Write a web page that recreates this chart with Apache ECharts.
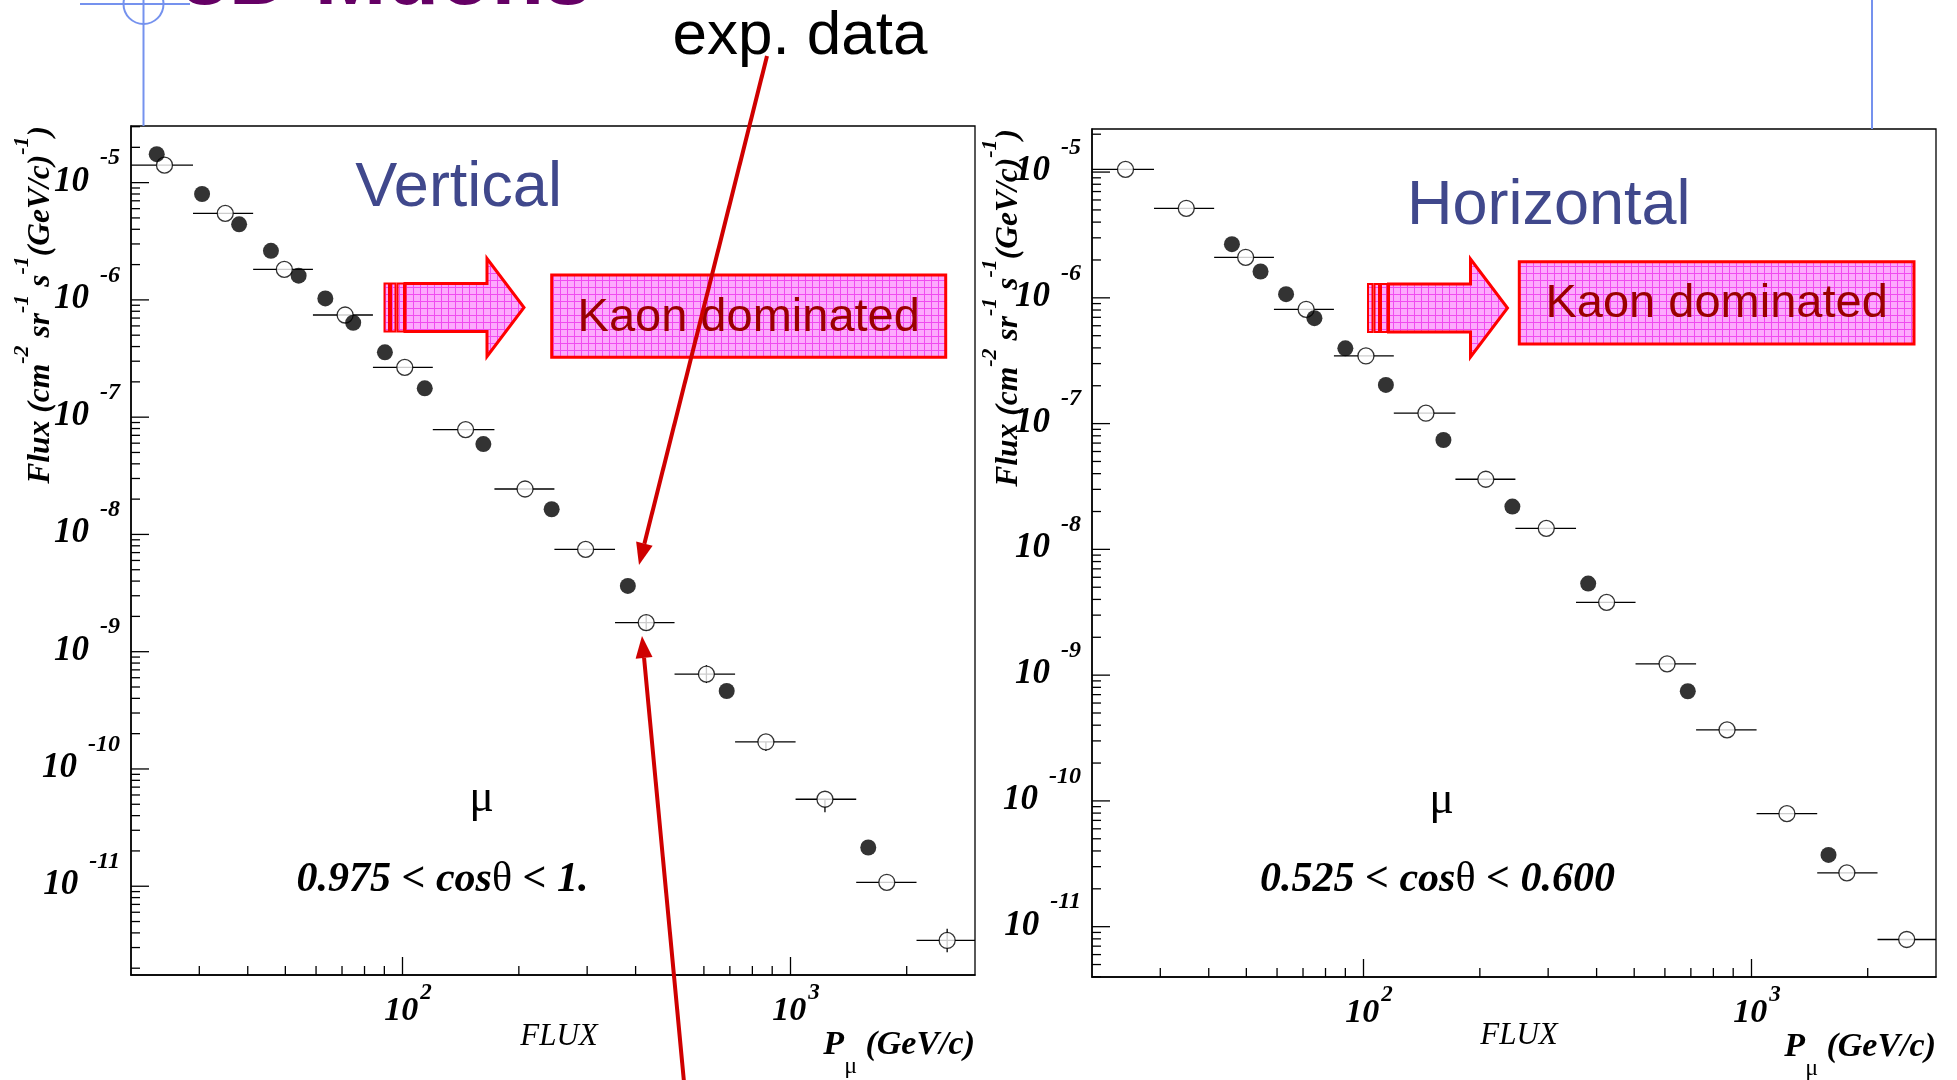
<!DOCTYPE html>
<html><head><meta charset="utf-8">
<script src="https://cdn.jsdelivr.net/npm/echarts@6/dist/echarts.min.js"></script>
<style>html,body{margin:0;padding:0;background:#fff;}#c{width:1957px;height:1080px;}</style>
</head><body><div id="c"></div>
<script>
// ================= DATA =================
// momentum bin edges (GeV/c) shared by the open-circle points (horizontal error bars)
const binEdges = [20, 28.9, 41.3, 58.9, 84.1, 120, 173, 247, 354, 504, 722, 1034, 1482, 2120, 3000];

// Vertical panel (0.975 < cos(theta) < 1)
const vertFilledP    = [23.3, 30.5, 38.0, 45.9, 54.1, 63.4, 74.8, 90.3, 114.4, 162, 243, 382, 687, 1592];
const vertFilledFlux = [1.75e-5, 8.0e-6, 4.41e-6, 2.62e-6, 1.61e-6, 1.03e-6, 6.38e-7, 3.57e-7, 1.76e-7, 5.9e-8, 1.64e-8, 3.64e-9, 4.62e-10, 2.14e-11];
const vertOpenP      = [24.4, 35.0, 49.7, 71.3, 101.6, 145.8, 207.5, 297.3, 426, 609, 867, 1231, 1777, 2543];
const vertOpenFlux   = [1.41e-5, 5.47e-6, 1.82e-6, 7.43e-7, 2.66e-7, 7.83e-8, 2.44e-8, 7.45e-9, 1.77e-9, 6.44e-10, 1.70e-10, 5.52e-11, 1.08e-11, 3.45e-12];
const vertOpenErrLo  = [1.41e-5, 5.47e-6, 1.82e-6, 7.43e-7, 2.66e-7, 7.83e-8, 2.44e-8, 7.45e-9, 1.51e-9, 5.40e-10, 1.42e-10, 4.28e-11, 1.08e-11, 2.74e-12];
const vertOpenErrHi  = [1.41e-5, 5.47e-6, 1.82e-6, 7.43e-7, 2.66e-7, 7.83e-8, 2.44e-8, 7.45e-9, 2.07e-9, 7.68e-10, 1.70e-10, 5.52e-11, 1.08e-11, 4.34e-12];

// Horizontal panel (0.525 < cos(theta) < 0.600)
const horFilledP    = [45.9, 54.4, 63.3, 74.9, 90.0, 114.5, 161.1, 242.6, 380.5, 687.3, 1585];
const horFilledFlux = [2.67e-6, 1.62e-6, 1.07e-6, 6.89e-7, 3.97e-7, 2.03e-7, 7.41e-8, 2.19e-8, 5.35e-9, 7.45e-10, 3.72e-11];
const horOpenP      = [24.4, 35.0, 49.8, 71.3, 101.7, 145.2, 207.2, 296.7, 424.5, 607.8, 867.7, 1238, 1767, 2521];
const horOpenFlux   = [1.05e-5, 5.15e-6, 2.10e-6, 8.11e-7, 3.45e-7, 1.21e-7, 3.61e-8, 1.47e-8, 3.79e-9, 1.23e-9, 3.67e-10, 7.92e-11, 2.68e-11, 7.91e-12];
const horOpenErrLo  = horOpenFlux;
const horOpenErrHi  = horOpenFlux;

// axis ranges and tick labels
const X_MIN = 20, X_MAX = 3000;
const VERT_Y_MIN = 1.75e-12, VERT_Y_MAX = 3.04e-5;
const HOR_Y_MIN = 3.98e-12, HOR_Y_MAX = 2.2e-5;
const yMajorTicks = [1e-11, 1e-10, 1e-9, 1e-8, 1e-7, 1e-6, 1e-5];
const yMajorLabels = ['-11', '-10', '-9', '-8', '-7', '-6', '-5'];
const yDecades = [1e-12, 1e-11, 1e-10, 1e-9, 1e-8, 1e-7, 1e-6, 1e-5];
const minorMultipliers = [2, 3, 4, 5, 6, 7, 8, 9];
const xMinorTicks = [30, 40, 50, 60, 70, 80, 90, 200, 300, 400, 500, 600, 700, 800, 900, 2000];

// ================= STYLE =================
const SERIF = '"Liberation Serif", "Times New Roman", serif';
const SANS = '"Liberation Sans", Arial, sans-serif';
const BLUE = '#7592ee';
const RED = '#cf0000';

const pat = document.createElement('canvas'); pat.width = 7; pat.height = 7;
const pg = pat.getContext('2d');
pg.fillStyle = '#fdaafd'; pg.fillRect(0, 0, 7, 7);
pg.fillStyle = '#f04cf0'; pg.fillRect(0, 0, 7, 1); pg.fillRect(0, 0, 1, 7);
const pinkFill = { image: pat, repeat: 'repeat' };

const yMinorTicks = [];
yDecades.forEach(d => minorMultipliers.forEach(m => yMinorTicks.push(m * d)));

const BI = { fontFamily: SERIF, fontStyle: 'italic', fontWeight: 'bold' };

function yTickSeries(gi, yMin, yMax) {
  const data = [];
  yMajorTicks.forEach((v, i) => { if (v >= yMin && v <= yMax) data.push([X_MIN, v, 1, i]); });
  yMinorTicks.forEach(v => { if (v > yMin && v < yMax) data.push([X_MIN, v, 0, -1]); });
  return {
    type: 'custom', xAxisIndex: gi, yAxisIndex: gi, clip: false, silent: true, z: 5,
    encode: { x: 0, y: 1 }, data,
    renderItem(params, api) {
      const p = api.coord([api.value(0), api.value(1)]);
      const major = api.value(2) === 1;
      const ch = [{ type: 'line', shape: { x1: p[0], y1: p[1], x2: p[0] + (major ? 18 : 9), y2: p[1] },
        style: { stroke: '#000', lineWidth: 1.3 } }];
      if (major) {
        ch.push({ type: 'text', x: p[0] - 11, y: p[1] - 10, style: {
          text: '{b|10}{e|' + yMajorLabels[api.value(3)] + '}', align: 'right', verticalAlign: 'middle',
          rich: {
            b: Object.assign({ fontSize: 35, lineHeight: 53, verticalAlign: 'bottom', fill: '#000' }, BI),
            e: Object.assign({ fontSize: 24, verticalAlign: 'top', fill: '#000', padding: [0, 0, 0, 11] }, BI)
          } } });
      }
      return { type: 'group', children: ch };
    }
  };
}

function xMinorSeries(gi, yMin) {
  return {
    type: 'custom', xAxisIndex: gi, yAxisIndex: gi, clip: false, silent: true, z: 5,
    encode: { x: 0, y: 1 }, data: xMinorTicks.map(v => [v, yMin]),
    renderItem(params, api) {
      const p = api.coord([api.value(0), api.value(1)]);
      return { type: 'line', shape: { x1: p[0], y1: p[1], x2: p[0], y2: p[1] - 9 }, style: { stroke: '#000', lineWidth: 1.3 } };
    }
  };
}

function errSeries(gi, P, F, lo, hi) {
  return {
    type: 'custom', xAxisIndex: gi, yAxisIndex: gi, clip: false, silent: true, z: 2,
    encode: { x: 0, y: 1 },
    data: P.map((p, i) => [p, F[i], binEdges[i], binEdges[i + 1], lo[i], hi[i]]),
    renderItem(params, api) {
      const l = api.coord([api.value(2), api.value(1)]);
      const r = api.coord([api.value(3), api.value(1)]);
      const ch = [{ type: 'line', shape: { x1: l[0], y1: l[1], x2: r[0], y2: r[1] }, style: { stroke: '#000', lineWidth: 1.3 } }];
      if (api.value(4) < api.value(5)) {
        const b = api.coord([api.value(0), api.value(4)]);
        const t = api.coord([api.value(0), api.value(5)]);
        ch.push({ type: 'line', shape: { x1: b[0], y1: b[1], x2: t[0], y2: t[1] }, style: { stroke: '#000', lineWidth: 1.3 } });
      }
      return { type: 'group', children: ch };
    }
  };
}

function openSeries(gi, P, F) {
  return { type: 'scatter', xAxisIndex: gi, yAxisIndex: gi, z: 3, symbol: 'circle', symbolSize: 16,
    itemStyle: { color: '#fff', borderColor: '#000', borderWidth: 1.3 }, data: P.map((p, i) => [p, F[i]]) };
}
function filledSeries(gi, P, F) {
  return { type: 'scatter', xAxisIndex: gi, yAxisIndex: gi, z: 4, symbol: 'circle', symbolSize: 16,
    itemStyle: { color: '#000' }, data: P.map((p, i) => [p, F[i]]) };
}

function mkX(gi) {
  return {
    type: 'log', logBase: 10, gridIndex: gi, min: X_MIN, max: X_MAX,
    axisLine: { show: true, lineStyle: { color: '#000', width: 1.5 } },
    axisTick: { show: true, inside: true, length: 18, lineStyle: { color: '#000', width: 1.3 } },
    minorTick: { show: false }, splitLine: { show: false },
    axisLabel: {
      show: true, margin: 7, showMinLabel: false, showMaxLabel: false,
      formatter: v => '{b|10}{e|' + Math.round(Math.log10(v)) + '}',
      rich: {
        b: Object.assign({ fontSize: 34, lineHeight: 46, verticalAlign: 'bottom', color: '#000', padding: [0, 0, 0, 12] }, BI),
        e: Object.assign({ fontSize: 23, verticalAlign: 'top', color: '#000', padding: [0, 0, 0, 2] }, BI)
      }
    },
    name: '{b|P}{u|μ}{b| (GeV/c)}', nameLocation: 'end', nameGap: 0, nameMoveOverlap: false,
    nameTextStyle: {
      align: 'right', verticalAlign: 'top', padding: [53, 0, 0, 0],
      rich: {
        b: Object.assign({ fontSize: 34, lineHeight: 51, verticalAlign: 'top', color: '#000' }, BI),
        u: { fontFamily: SERIF, fontSize: 24, verticalAlign: 'bottom', color: '#000' }
      }
    }
  };
}
function mkY(gi, mn, mx, padB) {
  return {
    type: 'log', logBase: 10, gridIndex: gi, min: mn, max: mx,
    axisLine: { show: true, lineStyle: { color: '#000', width: 1.5 } },
    axisTick: { show: false }, axisLabel: { show: false }, splitLine: { show: false }, minorTick: { show: false },
    name: '{b|Flux (cm}{s|-2}{b| sr}{s|-1}{b| s}{s|-1}{b|(GeV/c)}{s|-1}{b|)}',
    nameLocation: 'end', nameGap: 0, nameRotate: 90, nameMoveOverlap: false,
    nameTextStyle: {
      align: 'right', verticalAlign: 'bottom', padding: [0, 0, padB, 0],
      rich: {
        b: Object.assign({ fontSize: 31.5, lineHeight: 46, verticalAlign: 'bottom', color: '#000' }, BI),
        s: Object.assign({ fontSize: 22, verticalAlign: 'top', color: '#000' }, BI)
      }
    }
  };
}

function fatArrow(dx, dy) {
  const els = [];
  [[384.5, 4.5], [391, 4.5], [397.5, 6.5]].forEach(s => els.push({
    type: 'rect', shape: { x: s[0] + dx, y: 283.5 + dy, width: s[1], height: 48 },
    style: { fill: pinkFill, stroke: '#ff0000', lineWidth: 2 }, z: 50 }));
  els.push({ type: 'polygon', shape: { points: [[405 + dx, 283.5 + dy], [487 + dx, 283.5 + dy], [487 + dx, 258.5 + dy],
      [524 + dx, 307.5 + dy], [487 + dx, 356.5 + dy], [487 + dx, 331.5 + dy], [405 + dx, 331.5 + dy]] },
    style: { fill: pinkFill, stroke: '#ff0000', lineWidth: 3 }, z: 50 });
  return els;
}
function kaonBox(x, y, w, h) {
  return [
    { type: 'rect', shape: { x, y, width: w, height: h }, style: { fill: pinkFill, stroke: '#ff0000', lineWidth: 3 }, z: 50 },
    { type: 'text', x: x + w / 2, y: y + h / 2 + 1.5, z: 51, style: { text: 'Kaon dominated', fill: '#9a0000',
      font: '47px ' + SANS, align: 'center', verticalAlign: 'middle' } }
  ];
}
function redArrow(x1, y1, x2, y2) {
  const dx = x2 - x1, dy = y2 - y1, L = Math.hypot(dx, dy), ux = dx / L, uy = dy / L;
  const bx = x2 - 22 * ux, by = y2 - 22 * uy, px = -uy, py = ux;
  return [
    { type: 'line', shape: { x1, y1, x2: bx, y2: by }, style: { stroke: RED, lineWidth: 4 }, z: 100 },
    { type: 'polygon', shape: { points: [[x2, y2], [bx + 8.5 * px, by + 8.5 * py], [bx - 8.5 * px, by - 8.5 * py]] },
      style: { fill: RED }, z: 100 }
  ];
}
function condText(x, y, a, b) {
  return { type: 'text', x, y, z: 60, style: {
    text: '{n|' + a + ' < cos}{t|θ}{n| < ' + b + '}', align: 'center', verticalAlign: 'middle',
    rich: { n: Object.assign({ fontSize: 42, fill: '#000' }, BI), t: { fontFamily: SERIF, fontSize: 42, fill: '#000' } } } };
}
function plainText(x, y, text, font, fill) {
  return { type: 'text', x, y, z: 60, style: { text, font, fill, align: 'center', verticalAlign: 'middle' } };
}

const graphics = [].concat(
  [
    { type: 'line', shape: { x1: 80, y1: 4, x2: 190, y2: 4 }, style: { stroke: BLUE, lineWidth: 2 }, z: 1 },
    { type: 'circle', shape: { cx: 143.5, cy: 4, r: 20 }, style: { stroke: BLUE, fill: 'none', lineWidth: 2 }, z: 1 },
    { type: 'line', shape: { x1: 143.5, y1: 0, x2: 143.5, y2: 126 }, style: { stroke: BLUE, lineWidth: 2 }, z: 1 },
    { type: 'line', shape: { x1: 1872, y1: 0, x2: 1872, y2: 129 }, style: { stroke: BLUE, lineWidth: 2 }, z: 1 },
    { type: 'text', x: 181, y: -20, z: 2, style: { text: '3D Muons', font: 'bold 86px ' + SANS, fill: '#650065', align: 'left', verticalAlign: 'middle' } },
    plainText(800, 37, 'exp. data', '62px ' + SANS, '#000'),
    plainText(458.6, 189, 'Vertical', '63px ' + SANS, '#40488c'),
    plainText(1548.7, 207, 'Horizontal', '63px ' + SANS, '#40488c'),
    plainText(481.7, 799, 'μ', '46px ' + SERIF, '#000'),
    plainText(1441.7, 801, 'μ', '46px ' + SERIF, '#000'),
    plainText(559, 1037, 'FLUX', 'italic 31px ' + SERIF, '#000'),
    plainText(1519, 1036, 'FLUX', 'italic 31px ' + SERIF, '#000'),
    condText(442.5, 880, '0.975', '1.'),
    condText(1437.5, 880, '0.525', '0.600')
  ],
  fatArrow(0, 0), fatArrow(983.5, 0.5),
  kaonBox(551.7, 275, 394, 82.3), kaonBox(1519.3, 261.7, 394.7, 82.3),
  redArrow(767, 56, 639, 565), redArrow(684, 1082, 642, 636)
);

const chart = echarts.init(document.getElementById('c'), null, { renderer: 'canvas', width: 1957, height: 1080 });
chart.setOption({
  animation: false,
  backgroundColor: '#fff',
  grid: [
    { left: 131, top: 126, width: 844, height: 849, show: true, borderColor: '#000', borderWidth: 1.3, backgroundColor: 'transparent', outerBoundsMode: 'none', containLabel: false },
    { left: 1092, top: 129, width: 844, height: 848, show: true, borderColor: '#000', borderWidth: 1.3, backgroundColor: 'transparent', outerBoundsMode: 'none', containLabel: false }
  ],
  xAxis: [mkX(0), mkX(1)],
  yAxis: [mkY(0, VERT_Y_MIN, VERT_Y_MAX, 74), mkY(1, HOR_Y_MIN, HOR_Y_MAX, 67)],
  series: [
    yTickSeries(0, VERT_Y_MIN, VERT_Y_MAX), xMinorSeries(0, VERT_Y_MIN),
    errSeries(0, vertOpenP, vertOpenFlux, vertOpenErrLo, vertOpenErrHi),
    openSeries(0, vertOpenP, vertOpenFlux), filledSeries(0, vertFilledP, vertFilledFlux),
    yTickSeries(1, HOR_Y_MIN, HOR_Y_MAX), xMinorSeries(1, HOR_Y_MIN),
    errSeries(1, horOpenP, horOpenFlux, horOpenErrLo, horOpenErrHi),
    openSeries(1, horOpenP, horOpenFlux), filledSeries(1, horFilledP, horFilledFlux)
  ],
  graphic: { elements: graphics }
});
</script>
</body></html>
